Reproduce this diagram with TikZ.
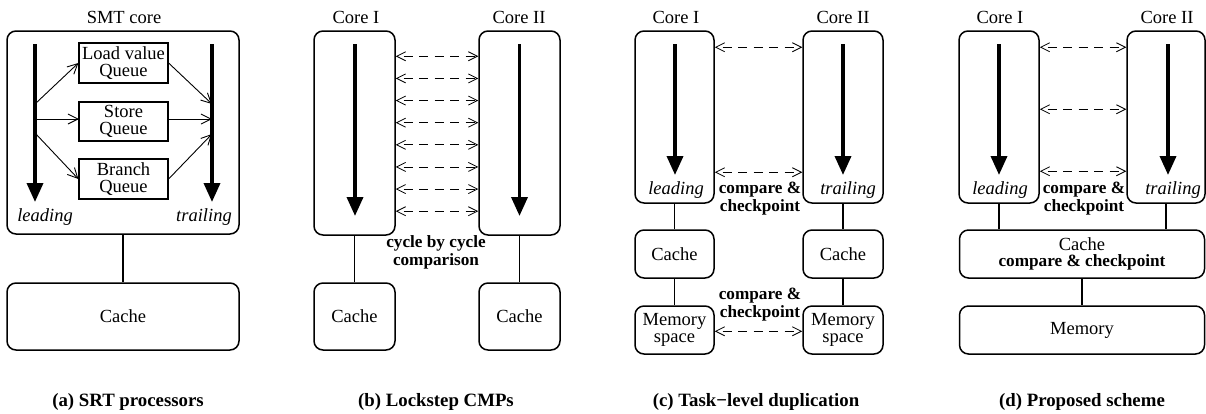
\documentclass[tikz,border=0pt]{standalone}
\usepackage{fontspec}
\setmainfont{Liberation Serif}
\usetikzlibrary{arrows.meta}
\newcommand\lblfont{\fontsize{18.5}{17}\selectfont}
\newcommand\notefont{\fontsize{17.2}{18}\selectfont\bfseries}
\newcommand\capfont{\fontsize{18.8}{20}\selectfont\bfseries}
\tikzset{
  box/.style={draw, rounded corners=9pt, line width=1.5pt, inner sep=0pt, align=center},
  qbox/.style={draw, line width=1.2pt, inner sep=0pt, align=center, minimum width=89pt},
  flow/.style={line width=3.6pt, -{Triangle[length=19pt,width=16pt]}},
  link/.style={line width=1.3pt},
  feed/.style={line width=0.9pt, -{Straight Barb[length=10pt,width=10pt]}},
  cmp/.style={line width=0.8pt, dash pattern=on 9pt off 6.5pt, dash phase=9pt,
    {Straight Barb[length=9pt,width=9pt]}-{Straight Barb[length=9pt,width=9pt]}},
  note/.style={font=\notefont, align=center, inner sep=0pt},
  capline/.style={font=\capfont, inner sep=0pt},
  role/.style={font=\lblfont\itshape, inner sep=0pt}
}
\begin{document}
\begin{tikzpicture}[x=1pt, y=-1pt, font=\lblfont]
\useasboundingbox (0,0) rectangle (1206,413);

% ---------- (a) SRT processors ----------
\node[inner sep=0pt] (smtlbl) at (124,17) {SMT core};
\node[box, minimum width=232pt, minimum height=203pt] (smt) at (123,132.5) {};
\node[box, minimum width=232pt, minimum height=67pt] (acache) at (123,316.5) {Cache};
\draw[link] (smt.south) -- (acache.north);

\node[qbox, minimum height=40pt] (lvq) at (123.5,63) {Load value\\Queue};
\node[qbox, minimum height=39pt] (stq) at (123.5,121.5) {Store\\Queue};
\node[qbox, minimum height=40pt] (brq) at (123.5,179) {Branch\\Queue};

\coordinate (ltop) at (35,44);
\coordinate (lbot) at (35,202);
\coordinate (ttop) at (212,44);
\coordinate (tbot) at (212,202);
\draw[flow] (ltop) -- (lbot);
\draw[flow] (ttop) -- (tbot);

\coordinate (lf1) at (35,104);
\coordinate (lf2) at (35,119);
\coordinate (lf3) at (35,133);
\coordinate (tj1) at (212,104);
\coordinate (tj2) at (212,119);
\coordinate (tj3) at (212,134);
\coordinate (stin) at (79,119);
\coordinate (stout) at (168,119);
\draw[feed] (lf1) -- (lvq.west);
\draw[feed] (lf2) -- (stin);
\draw[feed] (lf3) -- (brq.west);
\draw[feed] (lvq.east) -- (tj1);
\draw[feed] (stout) -- (tj2);
\draw[feed] (brq.east) -- (tj3);

\node[role] (alead) at (45,217) {leading};
\node[role] (atrail) at (204,217) {trailing};
\node[capline] (acap) at (128,402) {(a) SRT processors};

% ---------- (b) Lockstep CMPs ----------
\node[inner sep=0pt] (blbl1) at (356,17) {Core I};
\node[inner sep=0pt] (blbl2) at (519,17) {Core II};
\node[box, minimum width=81pt, minimum height=204pt] (bc1) at (354.5,133) {};
\node[box, minimum width=81pt, minimum height=204pt] (bc2) at (519.5,133) {};
\node[box, minimum width=81pt, minimum height=67pt] (bk1) at (354.5,316.5) {Cache};
\node[box, minimum width=81pt, minimum height=67pt] (bk2) at (519.5,316.5) {Cache};
\draw[link] (bc1.south) -- (bk1.north);
\draw[link] (bc2.south) -- (bk2.north);
\coordinate (bf1a) at (355,44);
\coordinate (bf1b) at (355,216);
\coordinate (bf2a) at (519.5,44);
\coordinate (bf2b) at (519.5,216);
\draw[flow] (bf1a) -- (bf1b);
\draw[flow] (bf2a) -- (bf2b);
\foreach \k in {0,...,7}{
  \pgfmathsetmacro\d{26+22.14*\k}
  \draw[cmp] ([yshift=-\d pt]bc1.north east) -- ([yshift=-\d pt]bc2.north west);
}
\node[note] (bnote) at (436,252) {cycle by cycle\\comparison};
\node[capline] (bcap) at (436,402) {(b) Lockstep CMPs};

% ---------- (c) Task-level duplication ----------
\node[inner sep=0pt] (clbl1) at (676,17) {Core I};
\node[inner sep=0pt] (clbl2) at (843,17) {Core II};
\node[box, minimum width=79pt, minimum height=172pt] (cc1) at (674.5,117) {};
\node[box, minimum width=80pt, minimum height=172pt] (cc2) at (843,117) {};
\node[box, minimum width=79pt, minimum height=48pt] (ck1) at (674.5,254) {Cache};
\node[box, minimum width=80pt, minimum height=48pt] (ck2) at (843,254) {Cache};
\node[box, minimum width=79pt, minimum height=48pt] (cm1) at (674.5,330) {Memory\\space};
\node[box, minimum width=80pt, minimum height=48pt] (cm2) at (843,330) {Memory\\space};
\draw[link] (cc1.south) -- (ck1.north);
\draw[link] (ck1.south) -- (cm1.north);
\draw[link] (cc2.south) -- (ck2.north);
\draw[link] (ck2.south) -- (cm2.north);
\coordinate (cf1a) at (675,44);
\coordinate (cf1b) at (675,175);
\coordinate (cf2a) at (843,44);
\coordinate (cf2b) at (843,175);
\draw[flow] (cf1a) -- (cf1b);
\draw[flow] (cf2a) -- (cf2b);
\draw[cmp] ([yshift=-17pt]cc1.north east) -- ([yshift=-17pt]cc2.north west);
\draw[cmp] ([yshift=-142pt]cc1.north east) -- ([yshift=-142pt]cc2.north west);
\draw[cmp] ([yshift=-26pt]cm1.north east) -- ([yshift=-26pt]cm2.north west);
\node[role] (clead) at (676,190) {leading};
\node[role] (ctrail) at (848,190) {trailing};
\node[note] (cnote1) at (760,199) {compare \&\\checkpoint};
\node[note] (cnote2) at (760,305) {compare \&\\checkpoint};
\node[capline] (ccap) at (756,402) {(c) Task−level duplication};

% ---------- (d) Proposed scheme ----------
\node[inner sep=0pt] (dlbl1) at (1000,17) {Core I};
\node[inner sep=0pt] (dlbl2) at (1167,17) {Core II};
\node[box, minimum width=80pt, minimum height=172pt] (dc1) at (999,117) {};
\node[box, minimum width=78pt, minimum height=172pt] (dc2) at (1166,117) {};
\node[box, minimum width=245pt, minimum height=48pt] (dk) at (1082,254)
  {Cache\\[-1pt]{\notefont compare \& checkpoint}};
\node[box, minimum width=245pt, minimum height=48pt] (dm) at (1082,330) {Memory};
\draw[link] (dc1.south) -- (dc1.south |- dk.north);
\draw[link] (dc2.south) -- (dc2.south |- dk.north);
\draw[link] (dk.south) -- (dm.north);
\coordinate (df1a) at (999,44);
\coordinate (df1b) at (999,175);
\coordinate (df2a) at (1168,44);
\coordinate (df2b) at (1168,175);
\draw[flow] (df1a) -- (df1b);
\draw[flow] (df2a) -- (df2b);
\foreach \d in {17,79,141}{
  \draw[cmp] ([yshift=-\d pt]dc1.north east) -- ([yshift=-\d pt]dc2.north west);
}
\node[role] (dlead) at (1000,190) {leading};
\node[role] (dtrail) at (1173,190) {trailing};
\node[note] (dnote) at (1084,199) {compare \&\\checkpoint};
\node[capline] (dcap) at (1082,402) {(d) Proposed scheme};
\end{tikzpicture}
\end{document}
